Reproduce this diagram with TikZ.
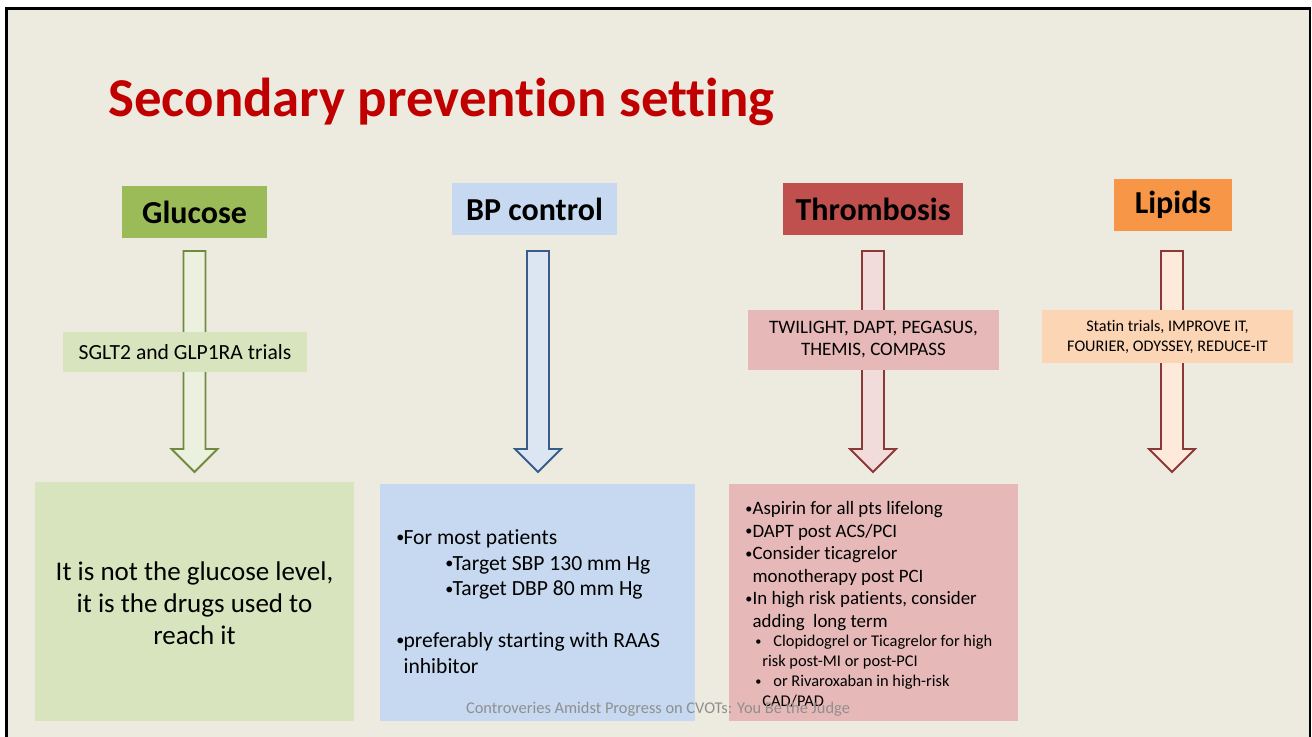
\documentclass[tikz,border=0pt]{standalone}
\usepackage{fontspec}
\setmainfont{Carlito}[Ligatures=NoCommon]
\usepackage{tikz}
\usetikzlibrary{positioning}

\definecolor{slidebg}{RGB}{237,235,224}
\definecolor{titlered}{HTML}{C00000}
\definecolor{glugreen}{HTML}{9BBB59}
\definecolor{glulight}{HTML}{D7E4BD}
\definecolor{gluarrow}{HTML}{EBF1DE}
\definecolor{gluline}{HTML}{71893F}
\definecolor{bpblue}{HTML}{C6D9F1}
\definecolor{bparrow}{HTML}{DCE6F2}
\definecolor{bpline}{HTML}{385D8A}
\definecolor{thred}{HTML}{C0504D}
\definecolor{thlight}{HTML}{E6B9B8}
\definecolor{tharrow}{HTML}{F2DCDB}
\definecolor{thline}{HTML}{8C3836}
\definecolor{liporange}{HTML}{F79646}
\definecolor{liplight}{HTML}{FCD5B5}
\definecolor{liparrow}{HTML}{FDEADA}
\definecolor{footgray}{HTML}{8F8F8F}

\newcommand{\bulletdot}{\raisebox{0.08em}{\scalebox{0.75}{•}}}
\newcommand{\bul}{\makebox[3.6pt][l]{\bulletdot}}

\begin{document}
\begin{tikzpicture}[x=0.5pt,y=-0.5pt,
      header/.style={inner sep=0pt,minimum height=26pt,font=\bfseries\fontsize{16}{19}\selectfont},
      trials/.style={inner sep=0pt,align=center},
      result/.style={inner sep=0pt,minimum width=#1},
      fatarrow/.pic={\path[pic actions] (-11,0) -- (-11,198) -- (-23,198) -- (0,221)
        -- (23,198) -- (11,198) -- (11,0) -- cycle;}]
      \useasboundingbox (0,0) rectangle (1312,737);
      \fill[slidebg] (7,8) rectangle (1310,737);
      \draw[line width=1.3pt] (6.5,737) -- (6.5,8.5) -- (1310,8.5) -- (1310,737);

      \node[anchor=base west,inner sep=0pt,text=titlered,font=\bfseries\fontsize{27.4}{33}\selectfont]
        (title) at (108,117) {Secondary prevention setting};

      % block arrows sit behind the trial labels
      \pic[draw=gluline,fill=gluarrow,line width=0.9pt] at (194.5,251) {fatarrow};
      \pic[draw=bpline,fill=bparrow,line width=0.9pt] at (538,251) {fatarrow};
      \pic[draw=thline,fill=tharrow,line width=0.9pt] at (873,251) {fatarrow};
      \pic[draw=thline,fill=liparrow,line width=0.9pt] at (1172,251) {fatarrow};

      \node[header,fill=glugreen,minimum width=72.5pt] (glucose) at (194.5,212) {Glucose};
      \node[header,fill=bpblue,minimum width=82.5pt] (bp) at (534.5,209) {BP control};
      \node[header,fill=thred,minimum width=90pt] (thromb) at (873,209) {Thrombosis};
      \node[header,fill=liporange,minimum width=59pt] (lipids) at (1173,205) {Lipids};

      \node[trials,fill=glulight,minimum width=122pt,minimum height=20pt,
        font=\fontsize{10.8}{13}\selectfont] (glutrials) at (185,352) {SGLT2 and GLP1RA trials};
      \node[trials,fill=thlight,minimum width=125.5pt,minimum height=30pt,
        font=\fontsize{9.5}{11}\selectfont] (thtrials) at (873.5,340)
        {TWILIGHT, DAPT, PEGASUS,\\THEMIS, COMPASS};
      \node[trials,fill=liplight,minimum width=125.5pt,minimum height=26.5pt,
        font=\fontsize{8.1}{10}\selectfont] (liptrials) at (1167.5,336.5)
        {Statin trials, IMPROVE IT,\\FOURIER, ODYSSEY, REDUCE-IT};

      \node[result=159.5pt,fill=glulight,minimum height=119.5pt] (glubox) at (194.5,601.5) {};
      \node[result=157.5pt,fill=bpblue,minimum height=118.5pt] (bpbox) at (537.5,602.5) {};
      \node[result=144.5pt,fill=thlight,minimum height=118.5pt] (thbox) at (873.5,602.5) {};

      \node[align=center,inner sep=0pt,font=\fontsize{13.5}{16}\selectfont] (glutext) at (194.5,603.5)
        {It is not the glucose level,\\it is the drugs used to\\reach it};
      \node[anchor=north west,align=left,inner sep=0pt,font=\fontsize{10.8}{12.9}\selectfont]
        (bptext) at (396,529)
        {\bul For most patients\\
         \hspace*{24.5pt}\bul Target SBP 130 mm Hg\\
         \hspace*{24.5pt}\bul Target DBP 80 mm Hg\\[12.9pt]
         \bul preferably starting with RAAS\\
         \hspace*{3.6pt}inhibitor};
      \node[anchor=north west,align=left,inner sep=0pt,font=\fontsize{9.45}{11.3}\selectfont]
        (thmain) at (745,501)
        {\bul Aspirin for all pts lifelong\\
         \bul DAPT post ACS/PCI\\
         \bul Consider ticagrelor\\
         \hspace*{3.6pt}monotherapy post PCI\\
         \bul In high risk patients, consider\\
         \hspace*{3.6pt}adding\ \ long term};
      \node[anchor=north west,align=left,inner sep=0pt,font=\fontsize{8.2}{10}\selectfont]
        (thsub) at (755,635)
        {\makebox[9pt][l]{\bulletdot}Clopidogrel or Ticagrelor for high\\
         \hspace*{3.5pt}risk post-MI or post-PCI\\
         \makebox[9pt][l]{\bulletdot}or Rivaroxaban in high-risk\\
         \hspace*{3.5pt}CAD/PAD};

      \node[inner sep=0pt,text=footgray,font=\fontsize{8.2}{10}\selectfont] (footer) at (658,709)
        {Controveries Amidst Progress on CVOTs: You Be the Judge};
\end{tikzpicture}
\end{document}
